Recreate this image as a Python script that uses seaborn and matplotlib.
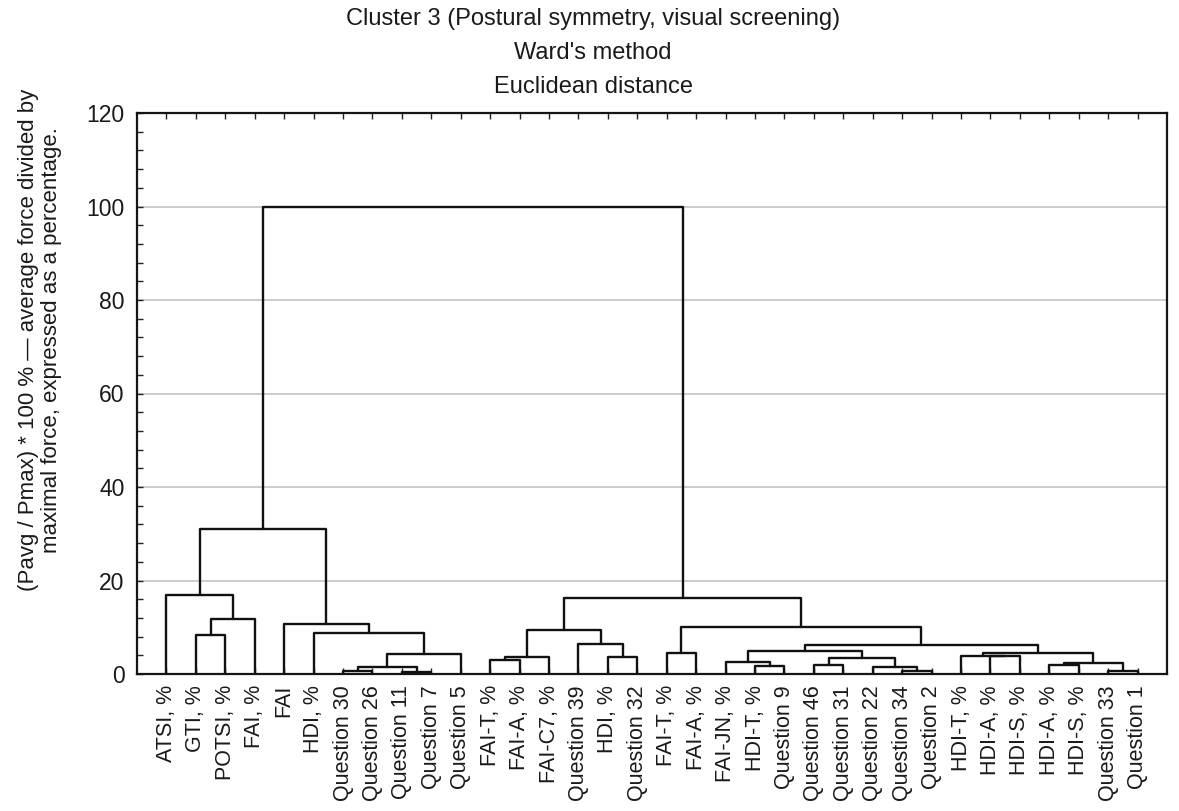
import numpy as np
import pandas as pd
import matplotlib
matplotlib.use("Agg")
import matplotlib.pyplot as plt
import seaborn as sns
from matplotlib.ticker import MultipleLocator

# ---------------- data ----------------
leaf_labels = [
    "ATSI, %", "GTI, %", "POTSI, %", "FAI, %", "FAI", "HDI, %",
    "Question 30", "Question 26", "Question 11", "Question 7", "Question 5",
    "FAI-T, %", "FAI-A, %", "FAI-C7, %", "Question 39", "HDI, %", "Question 32",
    "FAI-T, %", "FAI-A, %", "FAI-JN, %", "HDI-T, %", "Question 9",
    "Question 46", "Question 31", "Question 22", "Question 34", "Question 2",
    "HDI-T, %", "HDI-A, %", "HDI-S, %", "HDI-A, %", "HDI-S, %",
    "Question 33", "Question 1",
]
# linkage (scipy style): ids 0..33 are leaves, 34+k is the k-th merge
merge_left = [6, 8, 34, 36, 5, 4, 1, 40, 0, 42,
              11, 44, 15, 14, 45, 17, 20, 19, 22, 25,
              24, 52, 51, 28, 27, 30, 32, 59, 58, 56,
              49, 48, 43]
merge_right = [7, 9, 35, 10, 37, 38, 2, 3, 41, 39,
               12, 13, 16, 46, 47, 18, 21, 50, 23, 26,
               53, 54, 55, 29, 57, 31, 33, 60, 61, 62,
               63, 64, 65]
merge_height = [0.65, 0.5, 1.45, 4.25, 8.8, 10.7, 8.4, 11.8, 16.8, 31.0,
                3.0, 3.7, 3.7, 6.4, 9.4, 4.5, 1.7, 2.6, 1.9, 0.7,
                1.45, 3.5, 5.0, 3.8, 3.85, 1.9, 0.65, 2.3, 4.45, 6.1,
                10.1, 16.2, 100.0]

title_lines = ["Cluster 3 (Postural symmetry, visual screening)",
               "Ward's method", "Euclidean distance"]
ylabel_lines = ["(Pavg / Pmax) * 100 % \u2014 average force divided by",
                "maximal force, expressed as a percentage."]

# ---------------- layout of the dendrogram ----------------
n_leaves = len(leaf_labels)
node_x = {i: i + 1.0 for i in range(n_leaves)}
node_h = {i: 0.0 for i in range(n_leaves)}
rows = []
for k, (a, b, h) in enumerate(zip(merge_left, merge_right, merge_height)):
    nid = n_leaves + k
    node_x[nid] = (node_x[a] + node_x[b]) / 2.0
    node_h[nid] = h
    for px, py in [(node_x[a], node_h[a]), (node_x[a], h),
                   (node_x[b], h), (node_x[b], node_h[b])]:
        rows.append({"x": px, "y": py, "seg": k})
seg_df = pd.DataFrame(rows)

# ---------------- plotting ----------------
sns.set_style("ticks")
plt.rcParams["font.family"] = ["Liberation Sans", "DejaVu Sans"]

W, H = 1179, 811
fig = plt.figure(figsize=(W / 100, H / 100), dpi=100)
ax = fig.add_axes([137 / W, 1 - 674 / H, 1030 / W, 561 / H])

ax.yaxis.grid(True, color="#c8c8c8", linewidth=1.3)
ax.set_axisbelow(True)

sns.lineplot(data=seg_df, x="x", y="y", units="seg", estimator=None,
             sort=False, color="#111111", linewidth=1.7, ax=ax)

ax.set_xlim(0, n_leaves + 1)
ax.set_ylim(0, 120)
ax.set_xticks(np.arange(1, n_leaves + 1))
ax.set_xticklabels(leaf_labels, rotation=90, fontsize=15.5, color="#1a1a1a")
ax.set_yticks(np.arange(0, 121, 20))
ax.yaxis.set_minor_locator(MultipleLocator(4))
ax.tick_params(axis="both", which="both", direction="in", top=True,
               right=False, length=4, width=1, color="#222222")
ax.tick_params(axis="y", which="major", labelsize=16.5, pad=9,
               labelcolor="#1a1a1a")
ax.tick_params(axis="x", pad=8)
ax.set_xlabel("")
ax.set_ylabel("")
for sp in ax.spines.values():
    sp.set_visible(True)
    sp.set_color("#151515")
    sp.set_linewidth(1.6)

fig.text(0.503, 1 - 53 / H, "\n".join(title_lines), ha="center", va="center",
         fontsize=17, linespacing=1.7, color="#1a1a1a")
fig.text(40 / W, 1 - 340 / H, "\n".join(ylabel_lines), rotation=90,
         ha="center", va="center", multialignment="center",
         fontsize=16, linespacing=1.1, color="#1a1a1a")

fig.savefig("out.png", dpi=100)
